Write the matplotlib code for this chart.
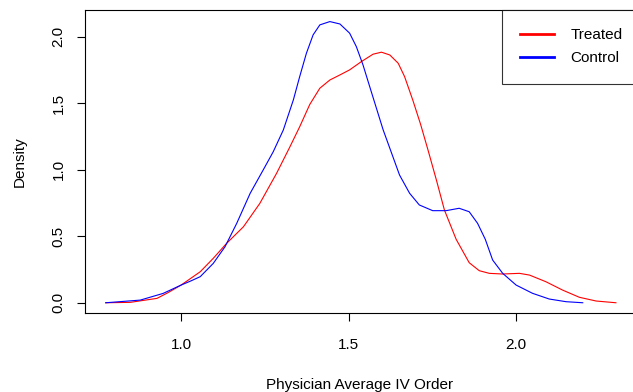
import numpy as np
import matplotlib
matplotlib.use('Agg')
import matplotlib.pyplot as plt

plt.rcParams['font.family'] = ['Liberation Sans', 'DejaVu Sans']

# density estimates
treated_x = [0.775, 0.848, 0.928, 0.96, 1.0, 1.057, 1.096, 1.136, 1.186,
             1.235, 1.285, 1.325, 1.354, 1.384, 1.414, 1.444, 1.474, 1.503,
             1.538, 1.573, 1.598, 1.623, 1.648, 1.667, 1.692, 1.715, 1.737,
             1.762, 1.786, 1.821, 1.860, 1.890, 1.920, 1.960, 2.010, 2.040,
             2.089, 2.139, 2.189, 2.239, 2.298]
treated_y = [0.0, 0.003, 0.033, 0.075, 0.133, 0.233, 0.334, 0.447, 0.571,
             0.747, 0.973, 1.173, 1.323, 1.49, 1.612, 1.674, 1.712, 1.75,
             1.812, 1.868, 1.883, 1.862, 1.80, 1.70, 1.52, 1.34, 1.148,
             0.923, 0.697, 0.477, 0.301, 0.241, 0.221, 0.216, 0.221, 0.208,
             0.158, 0.095, 0.041, 0.013, 0.0]

control_x = [0.775, 0.878, 0.946, 1.0, 1.03, 1.057, 1.096, 1.131, 1.166,
             1.206, 1.245, 1.275, 1.305, 1.335, 1.354, 1.374, 1.394, 1.414,
             1.444, 1.474, 1.503, 1.523, 1.543, 1.563, 1.583, 1.603, 1.652,
             1.682, 1.711, 1.751, 1.791, 1.830, 1.860, 1.885, 1.908, 1.930,
             1.960, 2.0, 2.049, 2.099, 2.149, 2.199]
control_y = [0.0, 0.02, 0.07, 0.133, 0.165, 0.196, 0.296, 0.421, 0.597,
             0.822, 0.998, 1.135, 1.298, 1.524, 1.70, 1.875, 2.013, 2.088,
             2.113, 2.095, 2.026, 1.925, 1.787, 1.624, 1.462, 1.30, 0.96,
             0.823, 0.735, 0.692, 0.692, 0.71, 0.684, 0.597, 0.477, 0.321,
             0.221, 0.133, 0.071, 0.028, 0.008, 0.0]

x_ticks = [1.0, 1.5, 2.0]
y_ticks = [0.0, 0.5, 1.0, 1.5, 2.0]

fig = plt.figure(figsize=(6.33, 3.92), dpi=100)
ax = fig.add_axes([85 / 633, 79 / 392, 549 / 633, 303 / 392])

ax.plot(treated_x, treated_y, color='red', lw=0.8, label='Treated')
ax.plot(control_x, control_y, color='blue', lw=0.8, label='Control')

ax.set_xlim(0.713, 2.352)
ax.set_ylim(-0.077, 2.2)

ax.set_xticks(x_ticks)
ax.set_xticklabels(['%.1f' % t for t in x_ticks])
ax.set_yticks(y_ticks)
ax.set_yticklabels(['%.1f' % t for t in y_ticks], rotation=90, va='center')
ax.tick_params(direction='out', length=6, width=0.8, labelsize=11, pad=8)
ax.tick_params(axis='x', pad=12)

for s in ax.spines.values():
    s.set_linewidth(0.8)

ax.set_xlabel('Physician Average IV Order', fontsize=11, labelpad=19)
ax.set_ylabel('Density', fontsize=11, labelpad=18)

# R puts the legend flush with the plot box, whose right edge is just past the image
leg = ax.legend(loc='upper right', bbox_to_anchor=(1.012, 1.0), borderaxespad=0,
                fancybox=False, edgecolor='black', fontsize=11,
                handlelength=2.2, handletextpad=1.05, borderpad=1.2,
                labelspacing=0.6)
leg.get_frame().set_linewidth(0.8)
for h in leg.get_lines():
    h.set_linewidth(2)

fig.savefig('out.png', dpi=100)
